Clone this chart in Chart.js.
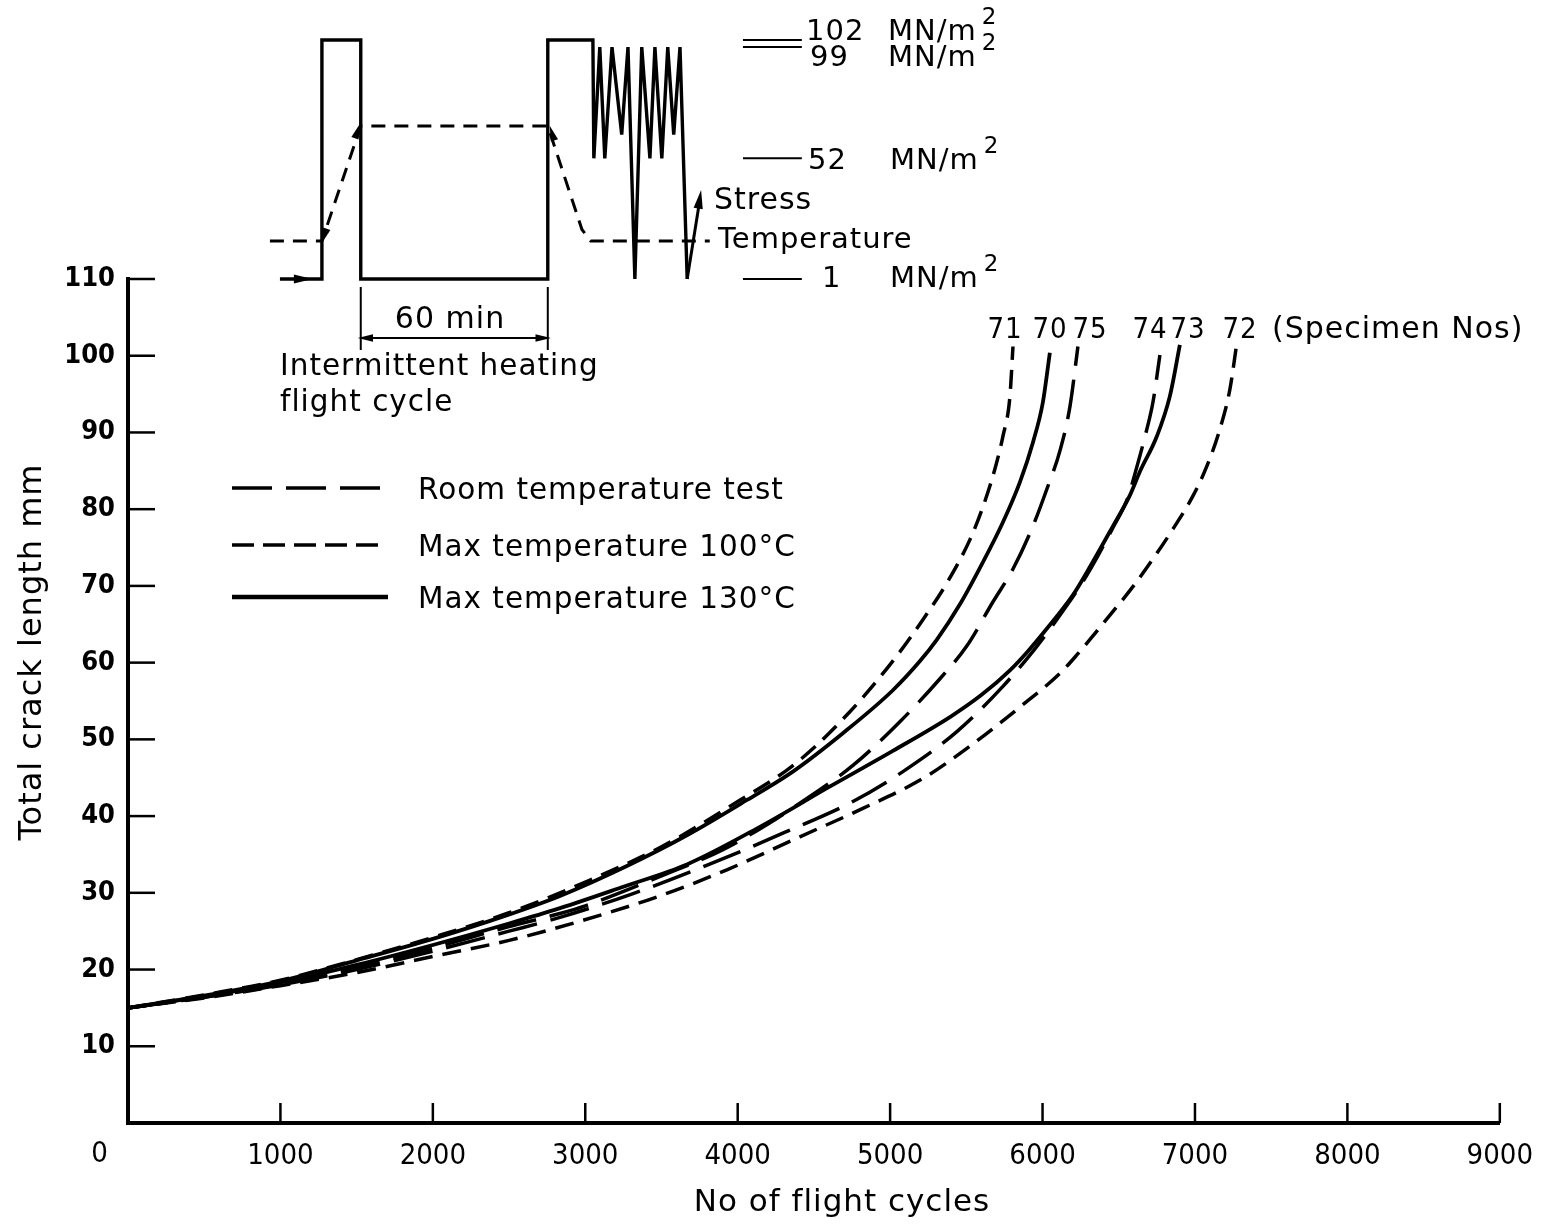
<!DOCTYPE html>
<html>
<head>
<meta charset="utf-8">
<script src="https://cdn.jsdelivr.net/npm/chart.js@4.4.1/dist/chart.umd.min.js"></script>
<style>
  html, body { margin: 0; padding: 0; background: #fff; }
  canvas { display: block; }
</style>
</head>
<body>
<canvas id="chart" width="1549" height="1227"></canvas>
<script>
// crack growth, one pair of arrays per specimen: flight cycles / total crack length (mm)
const cycles70 = [0, 500, 1000, 1500, 2000, 2473, 2834, 3273, 3667, 4061, 4362, 4690, 5018, 5196, 5307, 5458, 5609, 5740, 5851, 5937, 6002, 6048];
const crack70  = [15, 16.6, 18.5, 21.2, 24.0, 27.0, 29.6, 33.5, 37.5, 42.1, 45.8, 50.8, 56.4, 60.2, 63.0, 67.6, 73.1, 78.3, 83.5, 88.7, 93.9, 100.4];

const cycles71 = [0, 500, 1000, 1500, 2000, 2500, 3000, 3500, 4000, 4323, 4494, 4736, 4887, 5064, 5215, 5373, 5523, 5609, 5687, 5740, 5786, 5806];
const crack71  = [15, 16.7, 18.6, 21.3, 24.2, 27.4, 31.4, 36.0, 41.9, 46.0, 48.8, 53.6, 57.0, 61.4, 65.6, 70.4, 76.0, 80.3, 85.2, 89.5, 94.7, 101.2];

const cycles75 = [0, 500, 1000, 1500, 2000, 2500, 2834, 3000, 3500, 3900, 4257, 4454, 4756, 5064, 5327, 5504, 5674, 5806, 5937, 6028, 6114, 6180, 6232];
const crack75  = [15, 16.4, 18.1, 20.3, 22.8, 25.6, 27.3, 28.3, 32.2, 35.6, 39.7, 42.3, 46.6, 52.3, 57.9, 62.2, 67.9, 72.2, 77.8, 82.6, 87.6, 93.4, 101.2];

const cycles73 = [0, 500, 1000, 1500, 2000, 2500, 2834, 3250, 3667, 4146, 4600, 5018, 5400, 5600, 5786, 5900, 6002, 6199, 6291, 6462, 6573, 6639, 6750, 6835, 6901];
const crack73  = [15, 16.5, 18.3, 20.6, 23.2, 26.0, 28.0, 30.8, 33.7, 38.6, 43.8, 48.5, 53.0, 55.8, 59.0, 61.4, 63.8, 68.8, 71.8, 77.8, 81.8, 84.9, 89.5, 94.7, 101.4];

const cycles74 = [0, 500, 1000, 1500, 2000, 2500, 2834, 3300, 3800, 4300, 4756, 5084, 5438, 5740, 5950, 6100, 6291, 6462, 6560, 6606, 6684, 6724, 6770];
const crack74  = [15, 16.4, 18.0, 20.0, 22.4, 25.0, 26.8, 29.8, 33.6, 37.8, 41.9, 45.8, 51.0, 56.9, 61.8, 65.8, 71.4, 77.6, 81.5, 84.6, 90.4, 93.9, 100.1];

const cycles72 = [0, 500, 1000, 1500, 2000, 2500, 2965, 3490, 3929, 4408, 4821, 5215, 5543, 5851, 6114, 6225, 6422, 6593, 6724, 6855, 6986, 7078, 7163, 7229, 7275];
const crack72  = [15, 16.3, 17.9, 19.6, 21.7, 23.8, 26.3, 29.6, 33.0, 37.3, 41.0, 44.9, 49.4, 54.2, 58.6, 61.0, 65.7, 69.9, 73.5, 77.4, 81.7, 85.6, 90.4, 95.6, 101.7];

const specimenNos = ['71', '70', '75', '74', '73', '72'];
const legendLabels = ['Room temperature test', 'Max temperature 100°C', 'Max temperature 130°C'];
const xTicks = [1000, 2000, 3000, 4000, 5000, 6000, 7000, 8000, 9000];
const yTicks = [10, 20, 30, 40, 50, 60, 70, 80, 90, 100, 110];

// flight cycle sketch: time in minutes, stress MN/m2, temperature degC
const stressTime  = [-13.4, 0, 0, 12.4, 12.4, 72.1, 72.1, 86.5, 86.8, 88.7, 90.3, 92.6, 95.7, 97.7, 99.9, 102.1, 104.7, 106.3, 108.5, 110.4, 112.3, 114.3, 116.6];
const stressLevel = [1, 1, 102, 102, 1, 1, 102, 102, 52, 99, 52, 99, 62, 99, 1, 99, 52, 99, 52, 99, 62, 99, 1];
const arrowTime   = [116.6, 120.7];
const arrowLevel  = [1, 35];
const tempTime  = [-16.6, 0, 12.4, 72.1, 83.0, 85.8, 123.8];
const tempLevel = [20, 20, 130, 130, 31, 20, 20];
const stressMarks = [102, 99, 52, 1];
const markTime = [134.4, 153.2];
const cycleStart = 12.4, cycleEnd = 72.1;   // the 60 min span

// arrow heads of the sketch (time, level, direction in degrees)
const stressHeadTime  = [-6.5, 120.5, 14.3, 70.2];
const stressHeadLevel = [1, 34, -23.9, -23.9];
const stressHeadDir   = [90, 9, -90, 90];
const tempHeadTime  = [11.2, 73.6, 0.9];
const tempHeadLevel = [124, 122, 26];
const tempHeadDir   = [19, -18, 199];

function pts(xs, ys) {
  return xs.map((x, i) => ({ x: x, y: ys[i] }));
}

const LONG = [40, 14];
const SHORT = [19, 10];
const FONT = '"DejaVu Sans", sans-serif';
const COND = '"DejaVu Sans Condensed", "DejaVu Sans", sans-serif';

function curve(xs, ys, dash, w) {
  return {
    data: pts(xs, ys), borderColor: '#000', borderWidth: w || 3.5, borderDash: dash,
    pointRadius: 0, fill: false, cubicInterpolationMode: 'monotone',
    xAxisID: 'x', yAxisID: 'y'
  };
}

function sketch(data, yId, dash, w) {
  return {
    data: data, borderColor: '#000', borderWidth: w, borderDash: dash || [],
    pointRadius: 0, fill: false, tension: 0, clip: false, spanGaps: false,
    xAxisID: 'x2', yAxisID: yId
  };
}

// level marks and dimension lines, split by null gaps
const markData = [];
stressMarks.forEach(s => {
  markData.push({ x: markTime[0], y: s }, { x: markTime[1], y: s }, { x: markTime[1], y: null });
});
const dimData = [
  { x: cycleStart, y: -2.4 }, { x: cycleStart, y: -29 }, { x: cycleStart, y: null },
  { x: cycleEnd, y: -2.4 }, { x: cycleEnd, y: -29 }, { x: cycleEnd, y: null },
  { x: cycleStart, y: -23.9 }, { x: cycleEnd, y: -23.9 }
];

function txt(ctx, s, x, y, size, align, fam, weight) {
  ctx.font = (weight ? weight + ' ' : '') + size + 'px ' + (fam || FONT);
  ctx.textAlign = align || 'left';
  ctx.textBaseline = 'middle';
  ctx.fillText(s, x, y);
}

function unit(ctx, x, y) {
  txt(ctx, 'MN/m', x, y, 29);
  txt(ctx, '2', x + ctx.measureText('MN/m').width + 5, y - 14, 23);
}

function seg(ctx, x1, y1, x2, y2) {
  ctx.beginPath(); ctx.moveTo(x1, y1); ctx.lineTo(x2, y2); ctx.stroke();
}

function head(ctx, px, py, deg, size) {
  ctx.save();
  ctx.translate(px, py);
  ctx.rotate(deg * Math.PI / 180);
  ctx.beginPath();
  ctx.moveTo(0, -size);
  ctx.lineTo(size * 0.42, size * 0.7);
  ctx.lineTo(-size * 0.42, size * 0.7);
  ctx.closePath();
  ctx.fill();
  ctx.restore();
}

const extras = {
  id: 'extras',
  afterDraw(chart) {
    const ctx = chart.ctx;
    const xs = chart.scales.x, ys = chart.scales.y;
    const tx = chart.scales.x2, sy = chart.scales.y2, ty = chart.scales.y3;
    ctx.save();
    ctx.strokeStyle = '#000';
    ctx.fillStyle = '#000';

    // arrow heads on the sketch
    stressHeadTime.forEach((t, i) => head(ctx, tx.getPixelForValue(t), sy.getPixelForValue(stressHeadLevel[i]), stressHeadDir[i], i < 2 ? 11 : 9));
    tempHeadTime.forEach((t, i) => head(ctx, tx.getPixelForValue(t), ty.getPixelForValue(tempHeadLevel[i]), tempHeadDir[i], 9));

    // ticks point into the plot
    ctx.lineWidth = 2.5;
    yTicks.forEach(v => { const py = ys.getPixelForValue(v); seg(ctx, xs.left, py, xs.left + 27, py); });
    xTicks.forEach(v => { const px = xs.getPixelForValue(v); seg(ctx, px, ys.bottom, px, ys.bottom - 20); });

    if ('letterSpacing' in ctx) ctx.letterSpacing = '1px';
    txt(ctx, '0', 100, 1154, 29, 'center', COND);

    // axis titles
    txt(ctx, 'No of flight cycles', 842, 1203, 31, 'center');
    ctx.save();
    ctx.translate(33, 652);
    ctx.rotate(-Math.PI / 2);
    txt(ctx, 'Total crack length mm', 0, 0, 32, 'center');
    ctx.restore();

    // legend
    const rows = [[488, LONG, 3.5], [545, [22, 9], 3.5], [597, [], 4.5]];
    rows.forEach((r, i) => {
      ctx.lineWidth = r[2];
      ctx.setLineDash(r[1]);
      seg(ctx, 232, r[0], i === 1 ? 378 : 388, r[0]);
      ctx.setLineDash([]);
      txt(ctx, legendLabels[i], 418, r[0] + 3, 29.5);
    });

    // specimen numbers over the curve ends
    const labX = [1005, 1050, 1090, 1150, 1188, 1240];
    specimenNos.forEach((s, i) => txt(ctx, s, labX[i], 330, 29, 'center', COND));
    txt(ctx, '(Specimen Nos)', 1272, 330, 30);

    // sketch texts
    txt(ctx, '102', 806, 32, 29); unit(ctx, 888, 32);
    txt(ctx, '99', 810, 58, 29); unit(ctx, 888, 58);
    txt(ctx, '52', 808, 161, 29); unit(ctx, 890, 161);
    txt(ctx, '1', 822, 279, 29); unit(ctx, 890, 279);
    txt(ctx, 'Stress', 714, 201, 30);
    txt(ctx, 'Temperature', 718, 240, 29);
    txt(ctx, '60 min', 450, 320, 30, 'center');
    txt(ctx, 'Intermittent heating', 280, 367, 29.5);
    txt(ctx, 'flight cycle', 280, 403, 29.5);
    ctx.restore();
  }
};

new Chart(document.getElementById('chart'), {
  type: 'line',
  data: {
    datasets: [
      curve(cycles75, crack75, LONG),
      curve(cycles74, crack74, LONG),
      curve(cycles71, crack71, SHORT),
      curve(cycles72, crack72, SHORT),
      curve(cycles70, crack70, [], 3.8),
      curve(cycles73, crack73, [], 3.8),
      sketch(pts(stressTime, stressLevel), 'y2', [], 3.4),
      sketch(pts(arrowTime, arrowLevel), 'y2', [], 3),
      sketch(pts(tempTime, tempLevel), 'y3', [14, 9], 3),
      sketch(markData, 'y2', [], 2),
      sketch(dimData, 'y2', [], 2)
    ]
  },
  options: {
    responsive: false,
    animation: false,
    devicePixelRatio: 1,
    layout: { padding: { top: 279, right: 49, left: 0, bottom: 0 } },
    plugins: { legend: { display: false }, tooltip: { enabled: false } },
    scales: {
      x: {
        type: 'linear', min: 0, max: 9000,
        afterFit: s => { s.height = 104; },
        afterBuildTicks: s => { s.ticks = [0].concat(xTicks).map(v => ({ value: v })); },
        grid: { display: false, drawTicks: false },
        border: { display: true, color: '#000', width: 4 },
        ticks: { color: '#000', padding: 16, maxRotation: 0, autoSkip: false,
                 font: { family: COND, size: 29 },
                 callback: v => (v === 0 ? '' : String(v)) }
      },
      y: {
        type: 'linear', min: 0, max: 110,
        afterFit: s => { s.width = 128; },
        afterBuildTicks: s => { s.ticks = [0].concat(yTicks).map(v => ({ value: v })); },
        grid: { display: false, drawTicks: false },
        border: { display: true, color: '#000', width: 4 },
        ticks: { color: '#000', padding: 13, autoSkip: false,
                 font: { family: COND, size: 27, weight: 'bold' },
                 callback: v => (v === 0 ? '' : String(v)) }
      },
      x2: { type: 'linear', display: false, min: -61.9, max: 376.0 },
      y2: { type: 'linear', display: false, min: -355.7, max: 1 },
      y3: { type: 'linear', display: false, min: -823.6, max: -16.35 }
    }
  },
  plugins: [extras]
});
</script>
</body>
</html>
